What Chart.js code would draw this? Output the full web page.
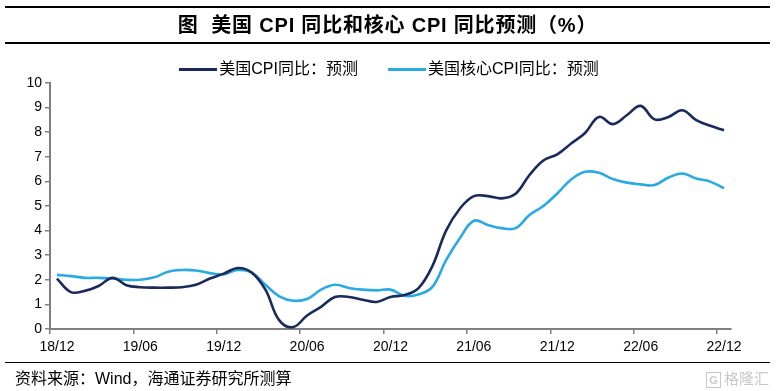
<!DOCTYPE html>
<html>
<head>
<meta charset="utf-8">
<script src="https://cdn.jsdelivr.net/npm/chart.js@4.4.0/dist/chart.umd.min.js"></script>
<style>
body{margin:0;background:#fff;font-family:"Liberation Sans","Noto Sans CJK SC",sans-serif;color:#000;}
#wrap{position:relative;width:778px;height:391px;overflow:hidden;}
#chartBox{position:absolute;left:0;top:0;width:778px;height:391px;}
.title{position:absolute;left:5px;top:6px;width:765px;height:34px;border-top:2px solid #000;border-bottom:2px solid #000;text-align:center;line-height:35px;font-weight:bold;font-size:20px;letter-spacing:0.8px;}
#legend{position:absolute;top:60px;left:0;width:778px;display:flex;justify-content:center;font-size:16px;line-height:18px;}
#legend .item{display:flex;align-items:center;margin:0 15px;}
#legend .swatch{display:inline-block;width:38px;height:3px;margin-right:2px;}
.foot{position:absolute;left:5px;top:362px;width:765px;border-top:1.5px solid #000;}
.source{position:absolute;left:15px;top:365px;font-size:16px;}
.mark{position:absolute;left:706px;top:367px;font-size:15px;color:#c9c9c9;}
.mark b{display:inline-block;border:1.5px solid #c9c9c9;width:13px;height:14px;line-height:14px;text-align:center;font-size:11px;margin-right:3px;}
</style>
</head>
<body>
<div id="wrap">
  <div id="chartBox"><canvas id="cpi_forecast"></canvas></div>
  <div class="title">图&nbsp;&nbsp;美国 CPI 同比和核心 CPI 同比预测（%）</div>
  <div id="legend"></div>
  <div class="foot"></div>
  <div class="source">资料来源：Wind，海通证券研究所测算</div>
  <div class="mark"><b>G</b>格隆汇</div>
</div>
<script>
// months, 18/12 .. 22/12
var months = ['18/12',
    '19/01', '19/02', '19/03', '19/04', '19/05', '19/06', '19/07', '19/08', '19/09', '19/10', '19/11', '19/12',
    '20/01', '20/02', '20/03', '20/04', '20/05', '20/06', '20/07', '20/08', '20/09', '20/10', '20/11', '20/12',
    '21/01', '21/02', '21/03', '21/04', '21/05', '21/06', '21/07', '21/08', '21/09', '21/10', '21/11', '21/12',
    '22/01', '22/02', '22/03', '22/04', '22/05', '22/06', '22/07', '22/08', '22/09', '22/10', '22/11', '22/12'
];

var cpiForecast = [2.05,
    1.5, 1.55, 1.75, 2.08, 1.78, 1.7, 1.68, 1.68, 1.7, 1.8, 2.05, 2.25,
    2.48, 2.3, 1.6, 0.35, 0.08, 0.55, 0.9, 1.3, 1.3, 1.19, 1.1, 1.3,
    1.38, 1.65, 2.54, 4.0, 4.9, 5.4, 5.4, 5.31, 5.5, 6.26, 6.85, 7.1,
    7.54, 7.97, 8.62, 8.33, 8.69, 9.07, 8.52, 8.62, 8.89, 8.49, 8.26, 8.08
];

var coreForecast = [2.2,
    2.15, 2.08, 2.08, 2.05, 2.0, 2.0, 2.1, 2.33, 2.4, 2.38, 2.27, 2.22,
    2.4, 2.3, 1.8, 1.33, 1.15, 1.22, 1.6, 1.8, 1.67, 1.6, 1.57, 1.6,
    1.35, 1.4, 1.7, 2.8, 3.7, 4.4, 4.23, 4.1, 4.1, 4.63, 5.0, 5.51,
    6.08, 6.39, 6.35, 6.1, 5.95, 5.88, 5.85, 6.16, 6.32, 6.12, 5.99, 5.72
];

var seriesNames = ['美国CPI同比：预测', '美国核心CPI同比：预测'];
var seriesColors = ['#1b2a5c', '#2aaae2'];
var yMin = 0, yMax = 10, yStep = 1;
var labelEvery = 6;

var axisGrey = '#808080';
var tickFont = {family: 'Liberation Sans', size: 14};

var ctx = document.getElementById('cpi_forecast').getContext('2d');
var chart = new Chart(ctx, {
    type: 'line',
    data: {
        labels: months,
        datasets: [{
            label: seriesNames[0],
            data: cpiForecast,
            borderColor: seriesColors[0],
            borderWidth: 2.6,
            pointRadius: 0,
            tension: 0.4,
            fill: false
        }, {
            label: seriesNames[1],
            data: coreForecast,
            borderColor: seriesColors[1],
            borderWidth: 2.6,
            pointRadius: 0,
            tension: 0.4,
            fill: false
        }]
    },
    options: {
        responsive: true,
        maintainAspectRatio: false,
        animation: false,
        layout: {padding: {top: 83, right: 47, left: 0, bottom: 0}},
        plugins: {
            legend: {display: false},
            tooltip: {enabled: false}
        },
        scales: {
            x: {
                type: 'category',
                offset: true,
                grid: {
                    offset: true,
                    drawOnChartArea: false,
                    tickLength: 5,
                    lineWidth: 1.5,
                    color: function (c) {
                        return (c.index % labelEvery === 0) ? axisGrey : 'rgba(0,0,0,0)';
                    }
                },
                border: {color: axisGrey, width: 2},
                ticks: {
                    autoSkip: false,
                    maxRotation: 0,
                    padding: 5,
                    color: '#000',
                    font: tickFont,
                    callback: function (v, i) {
                        return (i % labelEvery === 0) ? months[i] : '';
                    }
                },
                afterFit: function (s) { s.height = 62; }
            },
            y: {
                min: yMin,
                max: yMax,
                grid: {drawOnChartArea: false, tickLength: 5, lineWidth: 1.5, color: axisGrey},
                border: {color: axisGrey, width: 2},
                ticks: {stepSize: yStep, padding: 3, color: '#000', font: tickFont},
                afterFit: function (s) { s.width = 50; }
            }
        }
    }
});

// legend built from the chart's own datasets
var legendBox = document.getElementById('legend');
chart.data.datasets.forEach(function (ds) {
    var item = document.createElement('div');
    item.className = 'item';
    var sw = document.createElement('span');
    sw.className = 'swatch';
    sw.style.background = ds.borderColor;
    var txt = document.createElement('span');
    txt.textContent = ds.label;
    item.appendChild(sw);
    item.appendChild(txt);
    legendBox.appendChild(item);
});
</script>
</body>
</html>
